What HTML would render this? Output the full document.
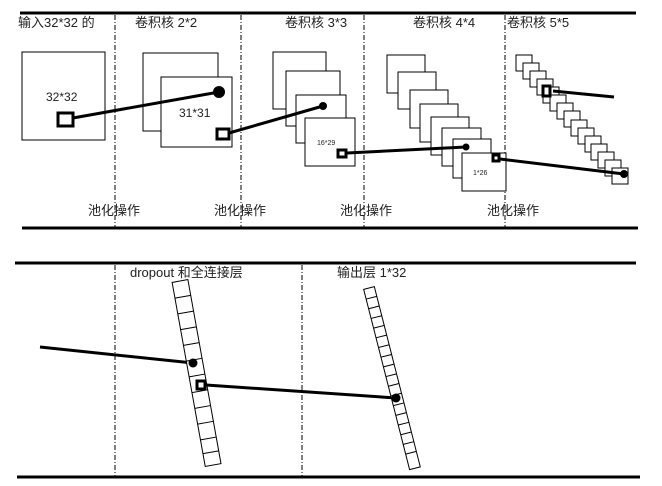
<!DOCTYPE html>
<html><head><meta charset="utf-8"><style>
html,body{margin:0;padding:0;background:#fff;}
svg{display:block;}
text{font-family:"Liberation Sans","Noto Sans CJK SC",sans-serif;fill:#222;}
</style></head><body>
<svg width="662" height="486" viewBox="0 0 662 486" xmlns="http://www.w3.org/2000/svg">
<g stroke="#000" stroke-width="3">
<line x1="20" y1="13" x2="636" y2="13"/>
<line x1="22" y1="228" x2="638" y2="228"/>
<line x1="15" y1="263" x2="636" y2="263"/>
<line x1="17" y1="477" x2="640" y2="477"/>
</g>
<g stroke="#000" stroke-width="1" stroke-dasharray="5,2,1,2">
<line x1="115" y1="15" x2="115" y2="228"/>
<line x1="241" y1="15" x2="241" y2="228"/>
<line x1="364" y1="15" x2="364" y2="228"/>
<line x1="505" y1="15" x2="505" y2="228"/>
<line x1="115" y1="265" x2="115" y2="476"/>
<line x1="302" y1="265" x2="302" y2="476"/>
</g>
<g font-size="13">
<text x="18" y="27">输入32*32 的</text>
<text x="135" y="27">卷积核 2*2</text>
<text x="285" y="27">卷积核 3*3</text>
<text x="413" y="27">卷积核 4*4</text>
<text x="507" y="27">卷积核 5*5</text>
<text x="88" y="215">池化操作</text>
<text x="214" y="215">池化操作</text>
<text x="340" y="215">池化操作</text>
<text x="487" y="215">池化操作</text>
<text x="130" y="277">dropout 和全连接层</text>
<text x="337" y="277">输出层 1*32</text>
</g>
<g fill="#fff" stroke="#000" stroke-width="1">
<rect x="22" y="52" width="83" height="88"/>
<rect x="143" y="53" width="75" height="78"/>
<rect x="161" y="77" width="71" height="70"/>
<rect x="273" y="52" width="53" height="57"/>
<rect x="286" y="71" width="54" height="55"/>
<rect x="296" y="95" width="50" height="48"/>
<rect x="305" y="118" width="50" height="48"/>
<rect x="387" y="55" width="38" height="38"/>
<rect x="398" y="72" width="38" height="37"/>
<rect x="410" y="90" width="38" height="38"/>
<rect x="420" y="104" width="38" height="38"/>
<rect x="431" y="117" width="38" height="38"/>
<rect x="442" y="128" width="39" height="38"/>
<rect x="453" y="139" width="38" height="39"/>
<rect x="462" y="153" width="44" height="38"/>
</g>
<g fill="#fff" stroke="#000" stroke-width="1">
<rect x="516" y="55" width="16" height="16"/>
<rect x="523" y="63" width="16" height="16"/>
<rect x="530" y="71" width="16" height="16"/>
<rect x="537" y="79" width="16" height="16"/>
<rect x="543" y="87" width="16" height="16"/>
<rect x="550" y="95" width="16" height="16"/>
<rect x="557" y="103" width="16" height="16"/>
<rect x="564" y="111" width="16" height="16"/>
<rect x="571" y="120" width="16" height="16"/>
<rect x="578" y="128" width="16" height="16"/>
<rect x="585" y="136" width="16" height="16"/>
<rect x="591" y="144" width="16" height="16"/>
<rect x="598" y="152" width="16" height="16"/>
<rect x="605" y="160" width="16" height="16"/>
<rect x="612" y="168" width="16" height="16"/>
</g>
<g font-size="12">
<text x="46" y="101">32*32</text>
<text x="179" y="117">31*31</text>
</g>
<text x="317" y="145" font-size="7">16*29</text>
<text x="473" y="175" font-size="7">1*26</text>
<g stroke="#000" stroke-width="3">
<line x1="73" y1="118" x2="219" y2="92"/>
<line x1="229" y1="133" x2="323" y2="106"/>
<line x1="347" y1="153" x2="466" y2="147"/>
<line x1="500" y1="159" x2="624" y2="174"/>
<line x1="553" y1="91" x2="614" y2="97"/>
<line x1="40" y1="347" x2="193" y2="363"/>
<line x1="206" y1="385" x2="396" y2="398"/>
</g>
<g fill="#fff" stroke="#000" stroke-width="3">
<rect x="58" y="113" width="15" height="13"/>
<rect x="217" y="129" width="12" height="10"/>
<rect x="338" y="150" width="8" height="7"/>
<rect x="493" y="155" width="6" height="6"/>
<rect x="543" y="86" width="7" height="10"/>
</g>
<g fill="#000">
<circle cx="219" cy="92" r="6"/>
<circle cx="323" cy="106" r="4"/>
<circle cx="466" cy="147" r="3.5"/>
<circle cx="624" cy="174" r="4"/>
</g>
<g transform="translate(180,281) rotate(-10.2)" fill="#fff" stroke="#000" stroke-width="1">
<rect x="-8" y="0" width="16" height="187"/>
<g>
<line x1="-8" y1="16" x2="8" y2="16"/><line x1="-8" y1="32" x2="8" y2="32"/>
<line x1="-8" y1="48" x2="8" y2="48"/><line x1="-8" y1="64" x2="8" y2="64"/>
<line x1="-8" y1="80" x2="8" y2="80"/><line x1="-8" y1="96" x2="8" y2="96"/>
<line x1="-8" y1="112" x2="8" y2="112"/><line x1="-8" y1="128" x2="8" y2="128"/>
<line x1="-8" y1="144" x2="8" y2="144"/><line x1="-8" y1="160" x2="8" y2="160"/>
<line x1="-8" y1="174" x2="8" y2="174"/>
</g>
</g>
<g transform="translate(369,288) rotate(-14.3)" fill="#fff" stroke="#000" stroke-width="1">
<rect x="-5.5" y="0" width="11" height="186"/>
<line x1="-5.5" y1="10" x2="5.5" y2="10"/><line x1="-5.5" y1="20" x2="5.5" y2="20"/>
<line x1="-5.5" y1="30" x2="5.5" y2="30"/><line x1="-5.5" y1="40" x2="5.5" y2="40"/>
<line x1="-5.5" y1="50" x2="5.5" y2="50"/><line x1="-5.5" y1="60" x2="5.5" y2="60"/>
<line x1="-5.5" y1="70" x2="5.5" y2="70"/><line x1="-5.5" y1="80" x2="5.5" y2="80"/>
<line x1="-5.5" y1="90" x2="5.5" y2="90"/><line x1="-5.5" y1="100" x2="5.5" y2="100"/>
<line x1="-5.5" y1="110" x2="5.5" y2="110"/><line x1="-5.5" y1="120" x2="5.5" y2="120"/>
<line x1="-5.5" y1="130" x2="5.5" y2="130"/><line x1="-5.5" y1="140" x2="5.5" y2="140"/>
<line x1="-5.5" y1="150" x2="5.5" y2="150"/><line x1="-5.5" y1="160" x2="5.5" y2="160"/>
<line x1="-5.5" y1="170" x2="5.5" y2="170"/>
</g>
<circle cx="193" cy="363" r="4.5" fill="#000"/>
<circle cx="396" cy="398" r="4.5" fill="#000"/>
<rect x="197" y="381" width="8" height="8" fill="#fff" stroke="#000" stroke-width="3"/>
</svg>
</body></html>
